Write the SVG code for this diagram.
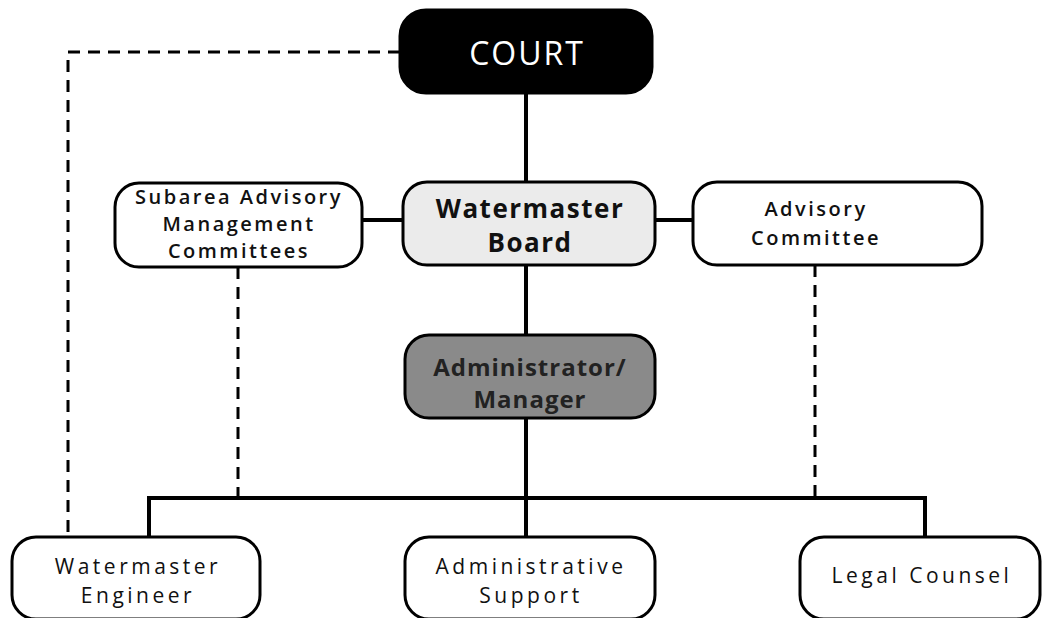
<svg xmlns="http://www.w3.org/2000/svg" width="1044" height="618" viewBox="0 0 1044 618">
<style>
.box{stroke:#000;stroke-width:3;fill:#fff}
.t{font-family:"Open Sans","Noto Sans",sans-serif;text-anchor:middle;fill:#111}
.sb{font-size:20px;font-weight:600;letter-spacing:2.5px}
.bb{font-size:26px;font-weight:700;letter-spacing:1.5px}
.rg{font-size:21px;letter-spacing:3.5px}
.solid{stroke:#000;stroke-width:4;fill:none}
.dash{stroke:#000;stroke-width:3;fill:none;stroke-dasharray:12 8}
</style>
<rect width="1044" height="618" fill="#fff"/>
<g id="connectors">
<path class="dash" d="M400 52 H68 V537"/>
<path class="dash" d="M238 267 V497"/>
<path class="dash" d="M815 265 V497"/>
<path class="solid" d="M526 93 V182"/>
<path class="solid" d="M362 220 H403"/>
<path class="solid" d="M655 220 H693"/>
<path class="solid" d="M526 265 V335"/>
<path class="solid" d="M526 418 V537"/>
<path class="solid" d="M149 537 V498 H925 V537"/>
</g>
<g id="court">
<rect x="400" y="10" width="252" height="83" rx="26" fill="#000" stroke="#000" stroke-width="3"/>
<text class="t" x="527" y="65" font-size="32" style="fill:#fff" letter-spacing="2">COURT</text>
</g>
<g id="subarea">
<rect class="box" x="115" y="183" width="247" height="84" rx="24"/>
<text class="t sb" x="239" y="204">Subarea Advisory</text>
<text class="t sb" x="239" y="231">Management</text>
<text class="t sb" x="239" y="258">Committees</text>
</g>
<g id="board">
<rect class="box" x="403" y="182" width="252" height="83" rx="24" style="fill:#ebebeb"/>
<text class="t bb" x="530" y="218">Watermaster</text>
<text class="t bb" x="530" y="252">Board</text>
</g>
<g id="advisory">
<rect class="box" x="693" y="182" width="289" height="83" rx="24"/>
<text class="t sb" x="816" y="216">Advisory</text>
<text class="t sb" x="816" y="245">Committee</text>
</g>
<g id="admin">
<rect class="box" x="405" y="335" width="250" height="83" rx="24" style="fill:#8a8a8a"/>
<text class="t" x="530" y="376" font-size="24" font-weight="700" letter-spacing="1" style="fill:#222">Administrator/</text>
<text class="t" x="530" y="408" font-size="24" font-weight="700" letter-spacing="1" style="fill:#222">Manager</text>
</g>
<g id="engineer">
<rect class="box" x="12" y="537" width="248" height="82" rx="24"/>
<text class="t rg" x="138" y="574">Watermaster</text>
<text class="t rg" x="138" y="603">Engineer</text>
</g>
<g id="support">
<rect class="box" x="405" y="537" width="250" height="82" rx="24"/>
<text class="t rg" x="531" y="574">Administrative</text>
<text class="t rg" x="531" y="603">Support</text>
</g>
<g id="legal">
<rect class="box" x="800" y="537" width="240" height="82" rx="24"/>
<text class="t rg" x="922" y="583">Legal Counsel</text>
</g>
</svg>
